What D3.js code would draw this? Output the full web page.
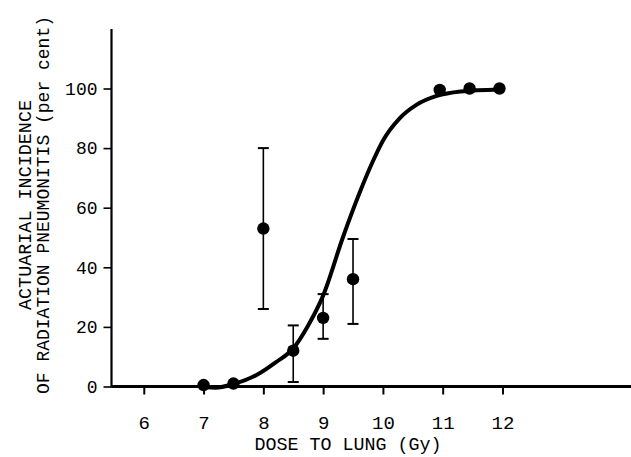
<!DOCTYPE html>
<html>
<head>
<meta charset="utf-8">
<script src="https://cdn.jsdelivr.net/npm/d3@7"></script>
<style>
  html, body { margin: 0; padding: 0; background: #fff; }
  svg { display: block; }
  text { font-family: "Liberation Mono", "DejaVu Sans Mono", monospace; fill: #000; }
</style>
</head>
<body>
<svg id="chart" width="631" height="457"></svg>
<script>
// ---- data ----
const doses = [7, 7.5, 8, 8.5, 9, 9.5, 10.95, 11.45, 11.95];
const incidence = [0.5, 1, 53, 12, 23, 36, 99.5, 100, 100];
const errLow = [null, null, 26, 1.5, 16, 21, null, null, null];
const errHigh = [null, null, 80, 20.5, 31, 49.5, null, null, null];

const fitDose = [7.0, 7.2, 7.5, 7.9, 8.2, 8.5, 8.75, 9.0, 9.33, 9.6, 9.83, 10.0, 10.28, 10.56, 10.9, 11.3, 11.95];
const fitIncidence = [-0.2, -0.4, 0.8, 4, 8, 12.8, 20.5, 30.5, 50, 64.5, 75.5, 82.5, 90, 94.5, 97.5, 99, 99.7];

const xTicks = [6, 7, 8, 9, 10, 11, 12];
const yTicks = [0, 20, 40, 60, 80, 100];

const xTitle = "DOSE TO LUNG (Gy)";
const yTitle1 = "ACTUARIAL INCIDENCE";
const yTitle2 = "OF RADIATION PNEUMONITIS (per cent)";

// ---- scales ----
const svg = d3.select("#chart");
const x = d3.scaleLinear().domain([5.46, 14.15]).range([111.5, 631]);
const y = d3.scaleLinear().domain([0, 100]).range([386.5, 88.5]);

// ---- axes ----
const xAxis = d3.axisBottom(x).tickValues(xTicks).tickSize(8).tickPadding(21).tickFormat(d3.format("d"));
const gx = svg.append("g").attr("transform", `translate(0,${y(0)})`).call(xAxis);
gx.select(".domain").remove();
gx.selectAll(".tick line").attr("stroke", "#000").attr("stroke-width", 2);
gx.selectAll(".tick text").attr("font-size", 19).attr("font-family", "Liberation Mono, monospace");

const yAxis = d3.axisLeft(y).tickValues(yTicks).tickSize(8).tickPadding(6);
const gy = svg.append("g").attr("transform", `translate(${x(5.46)},0)`).call(yAxis);
gy.select(".domain").remove();
gy.selectAll(".tick line").attr("stroke", "#000").attr("stroke-width", 1.6);
gy.selectAll(".tick text").attr("font-size", 18).attr("font-family", "Liberation Mono, monospace");

// axis lines
svg.append("line")
  .attr("x1", x(5.46)).attr("x2", x(14.15))
  .attr("y1", y(0)).attr("y2", y(0))
  .attr("stroke", "#000").attr("stroke-width", 3);
svg.append("line")
  .attr("x1", x(5.46)).attr("x2", x(5.46))
  .attr("y1", y(0) + 1).attr("y2", y(120))
  .attr("stroke", "#000").attr("stroke-width", 2.2);

// ---- fitted curve ----
const fit = fitDose.map((d, i) => [d, fitIncidence[i]]);
svg.append("path")
  .datum(fit)
  .attr("fill", "none")
  .attr("stroke", "#000")
  .attr("stroke-width", 4)
  .attr("stroke-linecap", "round")
  .attr("d", d3.line().x(d => x(d[0])).y(d => y(d[1])).curve(d3.curveMonotoneX));

// ---- error bars ----
const pts = doses.map((d, i) => ({ d, v: incidence[i], lo: errLow[i], hi: errHigh[i] }));
const eb = svg.append("g").selectAll("g").data(pts.filter(p => p.lo !== null)).join("g");
eb.append("line")
  .attr("x1", p => x(p.d)).attr("x2", p => x(p.d))
  .attr("y1", p => y(p.lo)).attr("y2", p => y(p.hi))
  .attr("stroke", "#000").attr("stroke-width", 1.6);
eb.append("line")
  .attr("x1", p => x(p.d) - 5.5).attr("x2", p => x(p.d) + 5.5)
  .attr("y1", p => y(p.hi)).attr("y2", p => y(p.hi))
  .attr("stroke", "#000").attr("stroke-width", 2);
eb.append("line")
  .attr("x1", p => x(p.d) - 5.5).attr("x2", p => x(p.d) + 5.5)
  .attr("y1", p => y(p.lo)).attr("y2", p => y(p.lo))
  .attr("stroke", "#000").attr("stroke-width", 2);

// ---- points ----
svg.append("g").selectAll("circle").data(pts).join("circle")
  .attr("cx", p => x(p.d)).attr("cy", p => y(p.v))
  .attr("r", 6.2).attr("fill", "#000");

// ---- titles ----
svg.append("text")
  .attr("x", 348).attr("y", 450)
  .attr("text-anchor", "middle")
  .attr("font-size", 19)
  .attr("textLength", 187)
  .attr("lengthAdjust", "spacingAndGlyphs")
  .text(xTitle);

svg.append("text")
  .attr("transform", "translate(31,205) rotate(-90)")
  .attr("text-anchor", "middle")
  .attr("font-size", 18)
  .attr("textLength", 210)
  .attr("lengthAdjust", "spacingAndGlyphs")
  .text(yTitle1);

svg.append("text")
  .attr("transform", "translate(49,205) rotate(-90)")
  .attr("text-anchor", "middle")
  .attr("font-size", 18)
  .attr("textLength", 378)
  .attr("lengthAdjust", "spacingAndGlyphs")
  .text(yTitle2);
</script>
</body>
</html>
